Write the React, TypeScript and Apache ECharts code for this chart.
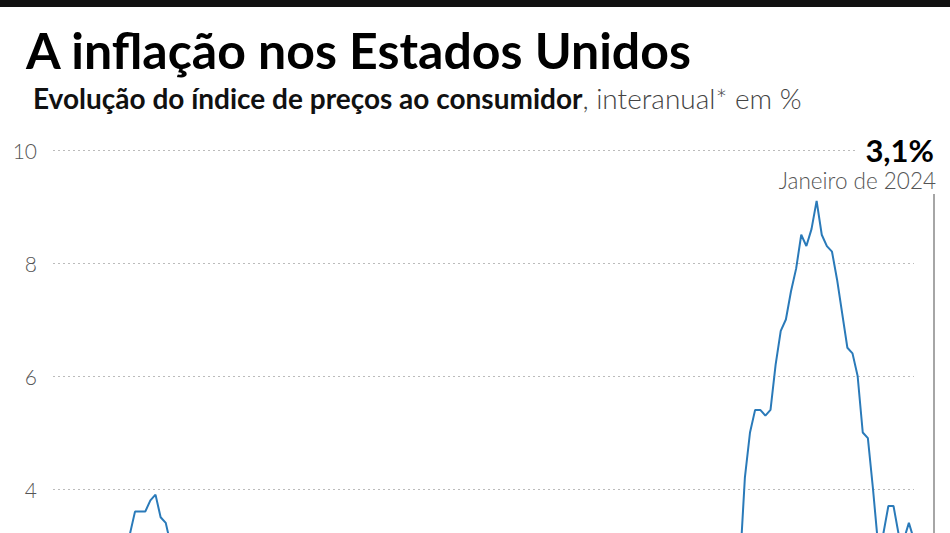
import React, { useEffect, useRef } from 'react';
import * as echarts from 'echarts';

// Inflação anual nos EUA (IPC, variação interanual em %), jan/2010 a jan/2024
const cpi2010 = [2.6, 2.1, 2.3, 2.2, 2.0, 1.1, 1.2, 1.1, 1.1, 1.2, 1.1, 1.5];
const cpi2011 = [1.6, 2.1, 2.7, 3.2, 3.6, 3.6, 3.6, 3.8, 3.9, 3.5, 3.4, 3.0];
const cpi2012 = [2.9, 2.9, 2.7, 2.3, 1.7, 1.7, 1.4, 1.7, 2.0, 2.2, 1.8, 1.7];
const cpi2013 = [1.6, 2.0, 1.5, 1.1, 1.4, 1.8, 2.0, 1.5, 1.2, 1.0, 1.2, 1.5];
const cpi2014 = [1.6, 1.1, 1.5, 2.0, 2.1, 2.1, 2.0, 1.7, 1.7, 1.7, 1.3, 0.8];
const cpi2015 = [-0.1, 0.0, -0.1, -0.2, 0.0, 0.1, 0.2, 0.2, 0.0, 0.2, 0.5, 0.7];
const cpi2016 = [1.4, 1.0, 0.9, 1.1, 1.0, 1.0, 0.8, 1.1, 1.5, 1.6, 1.7, 2.1];
const cpi2017 = [2.5, 2.7, 2.4, 2.2, 1.9, 1.6, 1.7, 1.9, 2.2, 2.0, 2.2, 2.1];
const cpi2018 = [2.1, 2.2, 2.4, 2.5, 2.8, 2.9, 2.9, 2.7, 2.3, 2.5, 2.2, 1.9];
const cpi2019 = [1.6, 1.5, 1.9, 2.0, 1.8, 1.6, 1.8, 1.7, 1.7, 1.8, 2.1, 2.3];
const cpi2020 = [2.5, 2.3, 1.5, 0.3, 0.1, 0.6, 1.0, 1.3, 1.4, 1.2, 1.2, 1.4];
const cpi2021 = [1.4, 1.7, 2.6, 4.2, 5.0, 5.4, 5.4, 5.3, 5.4, 6.2, 6.8, 7.0];
const cpi2022 = [7.5, 7.9, 8.5, 8.3, 8.6, 9.1, 8.5, 8.3, 8.2, 7.7, 7.1, 6.5];
const cpi2023 = [6.4, 6.0, 5.0, 4.9, 4.0, 3.0, 3.2, 3.7, 3.7, 3.2, 3.1, 3.4];
const cpi2024 = [3.1];

const firstYear = 2010;
const monthNames = ['jan', 'fev', 'mar', 'abr', 'mai', 'jun', 'jul', 'ago', 'set', 'out', 'nov', 'dez'];

const values = [
  ...cpi2010, ...cpi2011, ...cpi2012, ...cpi2013, ...cpi2014,
  ...cpi2015, ...cpi2016, ...cpi2017, ...cpi2018, ...cpi2019,
  ...cpi2020, ...cpi2021, ...cpi2022, ...cpi2023, ...cpi2024,
];
const categories = values.map((_, i) => `${monthNames[i % 12]} ${firstYear + Math.floor(i / 12)}`);

const lastValueLabel = '3,1%';
const lastDateLabel = 'Janeiro de 2024';

const FONT = 'Lato, "Noto Sans", sans-serif';

const App: React.FC = () => {
  const chartRef = useRef<HTMLDivElement>(null);

  useEffect(() => {
    document.body.style.margin = '0';
    if (!chartRef.current) return;
    const chart = echarts.init(chartRef.current, undefined, { renderer: 'svg' });

    const option = {
      animation: false,
      backgroundColor: '#fff',
      textStyle: { fontFamily: FONT },
      // the picture is cropped: the lower part of the plot lies below the page
      grid: { left: 53, top: 150, width: 861, height: 452, outerBoundsMode: 'none', containLabel: false },
      xAxis: {
        type: 'category',
        data: categories,
        boundaryGap: false,
        axisLine: { show: false },
        axisTick: { show: false },
        axisLabel: { show: false },
        splitLine: { show: false },
      },
      yAxis: {
        type: 'value',
        min: 2,
        max: 10,
        interval: 2,
        axisLine: { show: false },
        axisTick: { show: false },
        axisLabel: {
          margin: 16,
          color: '#555',
          fontSize: 21,
          fontWeight: 300,
          fontFamily: FONT,
          formatter: (v: number) => (v === 2 ? '' : String(v)),
        },
        splitLine: {
          lineStyle: { color: '#bbb', type: [2, 3], width: 1 },
        },
      },
      series: [
        {
          type: 'line',
          data: values,
          showSymbol: false,
          symbol: 'none',
          lineStyle: { color: '#2a7ab9', width: 2 },
          clip: true,
        },
      ],
      graphic: [
        {
          type: 'rect',
          z: 10,
          shape: { x: 0, y: 0, width: 950, height: 7 },
          style: { fill: '#111' },
        },
        {
          type: 'text',
          z: 10,
          x: 26,
          y: 50,
          style: {
            text: 'A inflação nos Estados Unidos',
            fill: '#000',
            font: `bold 50px ${FONT}`,
            textVerticalAlign: 'middle',
            verticalAlign: 'middle',
          },
        },
        {
          type: 'text',
          z: 10,
          x: 33,
          y: 97.5,
          style: {
            text: '{b|Evolução do índice de preços ao consumidor}{r|, interanual* em %}',
            textVerticalAlign: 'middle',
            verticalAlign: 'middle',
            rich: {
              b: { fontFamily: FONT, fontWeight: 'bold', fontSize: 28, fill: '#111', color: '#111' },
              r: { fontFamily: FONT, fontWeight: 300, fontSize: 28, fill: '#444', color: '#444' },
            },
          },
        },
        {
          type: 'rect',
          z: 10,
          shape: { x: 858, y: 134, width: 82, height: 30 },
          style: { fill: '#fff' },
        },
        {
          type: 'text',
          z: 11,
          x: 934,
          y: 149.5,
          style: {
            text: lastValueLabel,
            fill: '#000',
            font: `bold 31px ${FONT}`,
            lineHeight: 26,
            textAlign: 'right',
            align: 'right',
            textVerticalAlign: 'middle',
            verticalAlign: 'middle',
          },
        },
        {
          type: 'text',
          z: 11,
          x: 936,
          y: 180,
          style: {
            text: lastDateLabel,
            fill: '#555',
            font: `300 22.5px ${FONT}`,
            lineHeight: 20,
            textAlign: 'right',
            align: 'right',
            textVerticalAlign: 'middle',
            verticalAlign: 'middle',
          },
        },
        {
          type: 'line',
          z: 10,
          shape: { x1: 934, y1: 194, x2: 934, y2: 533 },
          style: { stroke: '#888', lineWidth: 1.5 },
        },
      ],
    };

    chart.setOption(option);
    return () => {
      chart.dispose();
    };
  }, []);

  return <div ref={chartRef} style={{ width: '950px', height: '533px' }} />;
};

export default App;
